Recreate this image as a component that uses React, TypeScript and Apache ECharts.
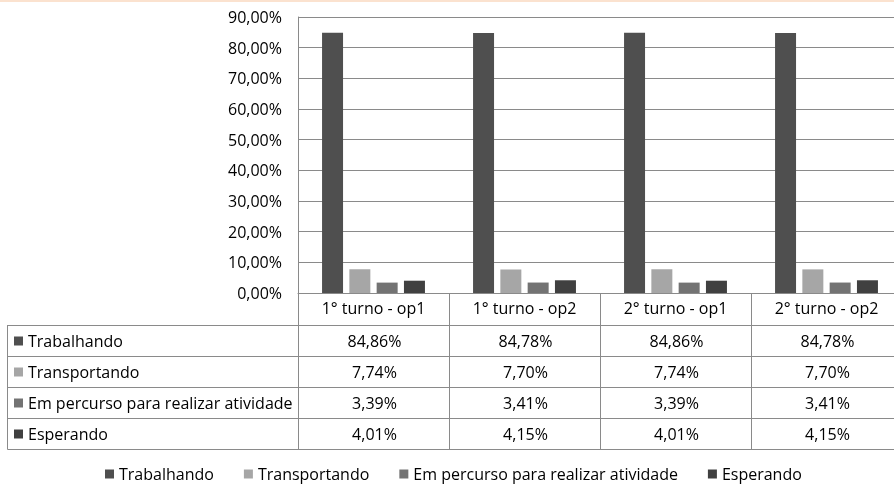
import React, { useEffect, useRef } from "react";
import * as echarts from "echarts";

const categories = ["1° turno - op1", "1° turno - op2", "2° turno - op1", "2° turno - op2"];
const seriesNames = ["Trabalhando", "Transportando", "Em percurso para realizar atividade", "Esperando"];
const trabalhando = [84.86, 84.78, 84.86, 84.78];
const transportando = [7.74, 7.7, 7.74, 7.7];
const emPercurso = [3.39, 3.41, 3.39, 3.41];
const esperando = [4.01, 4.15, 4.01, 4.15];
const seriesValues = [trabalhando, transportando, emPercurso, esperando];
const colors = ["#4f4f4f", "#a6a6a6", "#737373", "#404040"];

const FONT = "Open Sans";
const FS_TEXT = 16;
const FS_NUM = 16;
const GRID_LEFT = 298;
const GRID_TOP = 17;
const GRID_H = 276;
const COL_W = 151;
const ROW_H = 31;
const LINE = "#8a8a8a";
const CHART_W = 910;

const fmt = (v: number) => v.toFixed(2).replace(".", ",") + "%";

export default function App() {
  const ref = useRef<HTMLDivElement>(null);
  useEffect(() => {
    if (!ref.current) return;
    const chart = echarts.init(ref.current, null, { renderer: "svg" });
    const axisBottom = GRID_TOP + GRID_H;
    const tableTop = axisBottom + 32;
    const graphics: any[] = [];
    graphics.push({ type: "rect", shape: { x: 0, y: 0, width: CHART_W, height: 2 }, style: { fill: "#fbe2cf" } });
    for (let r = 0; r <= seriesNames.length; r++) {
      const y = tableTop + r * ROW_H + 0.5;
      graphics.push({ type: "line", shape: { x1: 7.5, y1: y, x2: CHART_W, y2: y }, style: { stroke: LINE, lineWidth: 1 } });
    }
    const tableBottom = tableTop + seriesNames.length * ROW_H;
    graphics.push({ type: "line", shape: { x1: 7.5, y1: tableTop, x2: 7.5, y2: tableBottom + 0.5 }, style: { stroke: LINE, lineWidth: 1 } });
    for (let c = 0; c <= categories.length; c++) {
      const x = GRID_LEFT + c * COL_W + 0.5;
      graphics.push({ type: "line", shape: { x1: x, y1: tableTop, x2: x, y2: tableBottom + 0.5 }, style: { stroke: LINE, lineWidth: 1 } });
    }
    seriesNames.forEach((name, r) => {
      const cy = tableTop + r * ROW_H + ROW_H / 2 + 0.5;
      graphics.push({ type: "rect", shape: { x: 14, y: cy - 4.5, width: 9, height: 9 }, style: { fill: colors[r] } });
      graphics.push({
        type: "text",
        x: 28,
        y: cy,
        style: { text: name, fontFamily: FONT, fontSize: FS_TEXT, fill: "#000", textAlign: "left", textVerticalAlign: "middle" },
      });
      seriesValues[r].forEach((v, c) => {
        graphics.push({
          type: "text",
          x: GRID_LEFT + c * COL_W + COL_W / 2 + 1,
          y: cy,
          style: { text: fmt(v), fontFamily: FONT, fontSize: FS_NUM, fill: "#000", textAlign: "center", textVerticalAlign: "middle" },
        });
      });
    });

    chart.setOption({
      animation: false,
      textStyle: { fontFamily: FONT },
      grid: { left: GRID_LEFT, top: GRID_TOP, width: COL_W * categories.length, height: GRID_H, containLabel: false },
      legend: {
        data: seriesNames,
        left: 100,
        top: 461,
        icon: "rect",
        itemWidth: 9,
        itemHeight: 9,
        itemGap: 30,
        textStyle: { fontFamily: FONT, fontSize: FS_TEXT, color: "#000" },
      },
      xAxis: {
        type: "category",
        data: categories,
        axisLine: { show: true, lineStyle: { color: LINE, width: 1 } },
        axisTick: { show: true, length: 32, interval: 0, lineStyle: { color: LINE, width: 1 } },
        axisLabel: { fontFamily: FONT, fontSize: FS_TEXT, color: "#000", margin: 7, interval: 0 },
      },
      yAxis: {
        type: "value",
        min: 0,
        max: 90,
        interval: 10,
        axisLine: { show: true, lineStyle: { color: LINE, width: 1 } },
        axisTick: { show: false },
        axisLabel: { fontFamily: FONT, fontSize: FS_NUM, color: "#000", margin: 16, formatter: (v: number) => fmt(v) },
        splitLine: { show: true, lineStyle: { color: LINE, width: 1 } },
      },
      series: seriesNames.map((name, i) => ({
        name,
        type: "bar",
        data: seriesValues[i],
        barWidth: 21,
        barGap: "30%",
        itemStyle: { color: colors[i] },
      })),
      graphic: graphics,
    });
    return () => chart.dispose();
  }, []);
  return (
    <div style={{ position: "fixed", left: 0, top: 0, width: 894, height: 487, overflow: "hidden" }}>
      <div ref={ref} style={{ width: CHART_W, height: 487 }} />
    </div>
  );
}
